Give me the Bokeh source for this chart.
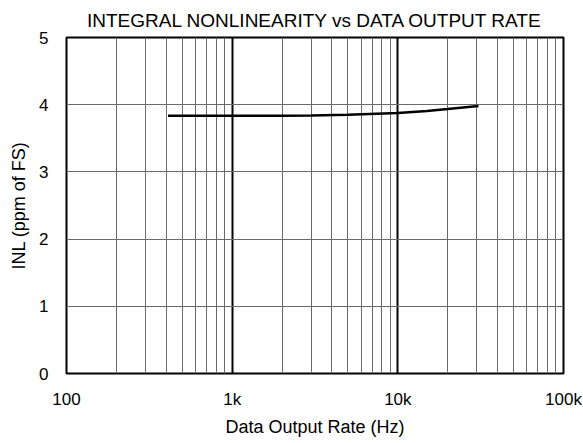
from bokeh.plotting import figure
from bokeh.models import FixedTicker, Range1d
from bokeh.embed import file_html
from bokeh.resources import INLINE

rate_hz = [410, 1000, 2000, 3000, 5000, 10000, 15000, 20000, 30700]
inl_ppm = [3.835, 3.835, 3.837, 3.84, 3.85, 3.875, 3.905, 3.935, 3.98]

x_major = [100, 1000, 10000, 100000]
x_labels = {100: "100", 1000: "1k", 10000: "10k", 100000: "100k"}
y_ticks = [0, 1, 2, 3, 4, 5]

FONT = "Liberation Sans"

p = figure(width=582, height=441, x_axis_type="log",
           x_range=Range1d(100, 100000), y_range=Range1d(0, 5),
           output_backend="svg", toolbar_location=None,
           title="INTEGRAL NONLINEARITY vs DATA OUTPUT RATE",
           min_border_left=66, min_border_right=19,
           min_border_top=37, min_border_bottom=68)

minor = [m * d for d in [100, 1000, 10000] for m in range(2, 10)]
p.xaxis.ticker = FixedTicker(ticks=x_major, minor_ticks=minor)
p.xaxis.major_label_overrides = x_labels
p.yaxis.ticker = FixedTicker(ticks=y_ticks)

p.title.align = "center"
p.title.text_font = FONT
p.title.text_font_size = "19px"
p.title.text_font_style = "normal"
p.title.text_color = "black"
p.title.standoff = 14

for ax in (p.xaxis, p.yaxis):
    ax.axis_line_color = None
    ax.major_tick_line_color = None
    ax.minor_tick_line_color = None
    ax.major_tick_out = 0
    ax.minor_tick_out = 0
    ax.major_tick_in = 0
    ax.minor_tick_in = 0
    ax.major_label_text_font = FONT
    ax.major_label_text_font_size = "17px"
    ax.major_label_text_color = "black"
    ax.axis_label_text_font = FONT
    ax.axis_label_text_font_size = "18px"
    ax.axis_label_text_font_style = "normal"
    ax.axis_label_text_color = "black"

p.xaxis.axis_label = "Data Output Rate (Hz)"
p.yaxis.axis_label = "INL (ppm of FS)"
p.xaxis.major_label_standoff = 16
p.yaxis.major_label_standoff = 18
p.xaxis.axis_label_standoff = 5
p.yaxis.axis_label_standoff = 7

p.xgrid.grid_line_color = "black"
p.xgrid.grid_line_width = 2
p.xgrid.minor_grid_line_color = "#6a6a6a"
p.xgrid.minor_grid_line_width = 1
p.ygrid.grid_line_color = "#6a6a6a"
p.ygrid.grid_line_width = 1

p.outline_line_color = "black"
p.outline_line_width = 2
p.background_fill_color = "white"
p.border_fill_color = "white"

p.line(rate_hz, inl_ppm, line_color="black", line_width=2.5)

open("out.html", "w").write(file_html(p, INLINE))
